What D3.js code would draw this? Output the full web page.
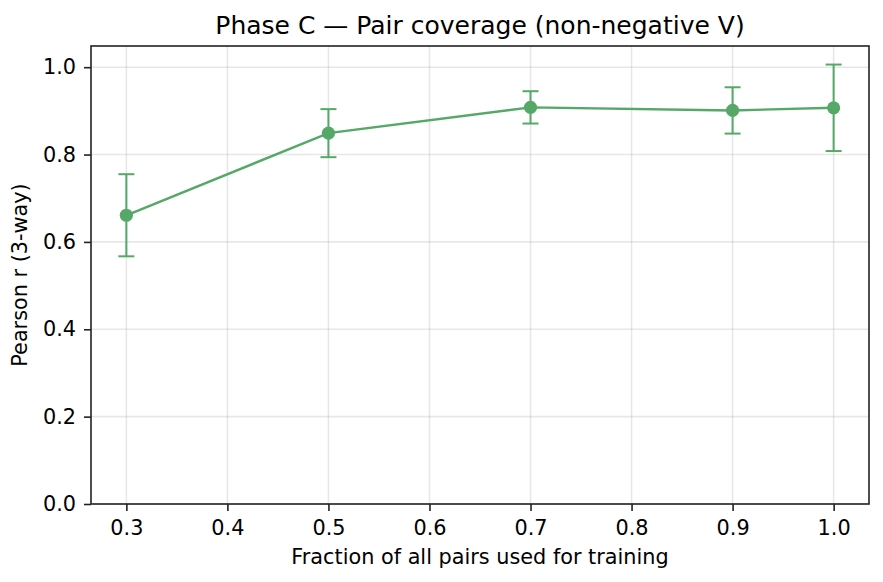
<!DOCTYPE html>
<html>
<head>
	<title> pair coverage </title>
	<script src="https://d3js.org/d3.v7.min.js"></script>
	<style>
		body { margin: 0; background: white; }
		svg text { font-family: "DejaVu Sans", sans-serif; fill: #000; }
	</style>
</head>
<body>
	<svg id="chart"></svg>
	<script type="text/javascript">
		// values
		const fractions = [0.3, 0.5, 0.7, 0.9, 1.0];
		const pearson = [0.661, 0.849, 0.908, 0.901, 0.907];
		const spread = [0.094, 0.055, 0.037, 0.053, 0.099];
		const xTicks = [0.3, 0.4, 0.5, 0.6, 0.7, 0.8, 0.9, 1.0];
		const yTicks = [0.0, 0.2, 0.4, 0.6, 0.8, 1.0];

		const w = 883, h = 582;
		const left_border = 91, right_border = 869, top_border = 46, bottom_border = 504;
		const green = "#55a868";

		const svg = d3.select("#chart").attr("width", w).attr("height", h);

		const x = d3.scaleLinear().domain([0.265, 1.035]).range([left_border, right_border]);
		const y = d3.scaleLinear().domain([0, 1.0485]).range([bottom_border, top_border]);

		// grid
		svg.append("g").selectAll("line").data(xTicks).join("line")
			.attr("x1", d => x(d)).attr("x2", d => x(d))
			.attr("y1", top_border).attr("y2", bottom_border)
			.style("stroke", "#b0b0b0").style("stroke-opacity", 0.3).style("stroke-width", 1.6);
		svg.append("g").selectAll("line").data(yTicks).join("line")
			.attr("x1", left_border).attr("x2", right_border)
			.attr("y1", d => y(d)).attr("y2", d => y(d))
			.style("stroke", "#b0b0b0").style("stroke-opacity", 0.3).style("stroke-width", 1.6);

		// axes
		const xaxis = d3.axisBottom(x).tickValues(xTicks).tickFormat(d3.format(".1f")).tickSizeOuter(0).tickSize(7).tickPadding(9);
		const gx = svg.append("g").attr("transform", "translate(0," + bottom_border + ")").call(xaxis);
		const yaxis = d3.axisLeft(y).tickValues(yTicks).tickFormat(d3.format(".1f")).tickSizeOuter(0).tickSize(7).tickPadding(8);
		const gy = svg.append("g").attr("transform", "translate(" + left_border + ",0)").call(yaxis);
		[gx, gy].forEach(g => {
			g.select(".domain").remove();
			g.selectAll("line").style("stroke", "#222").style("stroke-width", 1.6);
			g.selectAll("text").style("font-size", "20.8px").style("font-family", "DejaVu Sans");
		});

		// frame
		svg.append("rect").attr("x", left_border).attr("y", top_border)
			.attr("width", right_border - left_border).attr("height", bottom_border - top_border)
			.style("fill", "none").style("stroke", "#222").style("stroke-width", 1.6);

		// error bars
		const eb = svg.append("g").style("stroke", green).style("stroke-width", 2);
		fractions.forEach((f, i) => {
			const lo = pearson[i] - spread[i], hi = pearson[i] + spread[i];
			eb.append("line").attr("x1", x(f)).attr("x2", x(f)).attr("y1", y(lo)).attr("y2", y(hi));
			eb.append("line").attr("x1", x(f) - 8).attr("x2", x(f) + 8).attr("y1", y(lo)).attr("y2", y(lo));
			eb.append("line").attr("x1", x(f) - 8).attr("x2", x(f) + 8).attr("y1", y(hi)).attr("y2", y(hi));
		});

		// line + markers
		const line = d3.line().x((d, i) => x(fractions[i])).y(d => y(d));
		svg.append("path").datum(pearson).attr("d", line)
			.style("fill", "none").style("stroke", green).style("stroke-width", 2.4);
		svg.append("g").selectAll("circle").data(pearson).join("circle")
			.attr("cx", (d, i) => x(fractions[i])).attr("cy", d => y(d)).attr("r", 6.6)
			.style("fill", green);

		// labels
		svg.append("text").attr("x", (left_border + right_border) / 2).attr("y", 34).attr("text-anchor", "middle")
			.style("font-size", "25px").text("Phase C — Pair coverage (non-negative V)");
		svg.append("text").attr("x", (left_border + right_border) / 2).attr("y", 564).attr("text-anchor", "middle")
			.style("font-size", "20.8px").text("Fraction of all pairs used for training");
		svg.append("text").attr("transform", "translate(27," + ((top_border + bottom_border) / 2) + ") rotate(-90)")
			.attr("text-anchor", "middle").style("font-size", "20.8px").text("Pearson r (3-way)");
	</script>
</body>
</html>
